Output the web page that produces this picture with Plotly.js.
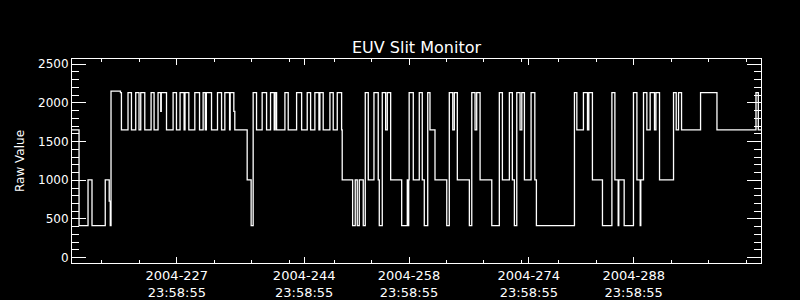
<!DOCTYPE html>
<html>
<head>
<meta charset="utf-8">
<script src="https://cdn.plot.ly/plotly-3.0.1.min.js"></script>
<style>html,body{margin:0;padding:0;background:#000;}#chart{width:800px;height:300px;}</style>
</head>
<body>
<div id="chart"></div>
<script>
// Day of year 2004 (fractional) at which each level starts; last entry closes the series
const days = [
 214.00, 214.94, 216.14, 216.67, 218.44, 218.97, 219.11, 219.21, 220.47, 220.60,
 221.48, 221.94, 222.51, 222.95, 223.18, 223.72, 224.56, 224.96, 225.49, 225.85,
 225.92, 226.62, 227.50, 227.95, 228.43, 228.97, 229.09, 229.60, 230.40, 231.03,
 231.51, 231.80, 231.94, 232.63, 233.43, 233.97, 234.41, 235.04, 235.12, 235.61,
 235.74, 237.39, 237.92, 238.19, 238.64, 239.39, 239.98, 240.51, 241.00, 241.13,
 241.32, 242.43, 242.87, 243.99, 244.66, 245.41, 245.86, 246.43, 246.97, 247.10,
 247.54, 248.44, 248.88, 249.42, 250.00, 250.08, 251.47, 251.82, 252.09, 252.36,
 252.89, 253.16, 253.56, 254.32, 254.89, 255.03, 255.43, 255.88, 256.10, 256.55,
 258.02, 258.77, 258.86, 258.96, 259.02, 259.57, 260.37, 260.77, 261.04, 261.50,
 261.80, 262.47, 264.04, 264.38, 264.84, 265.05, 265.45, 267.06, 267.38, 267.82,
 268.04, 268.49, 270.05, 271.06, 271.47, 272.40, 272.80, 273.07, 273.39, 273.83,
 274.06, 274.41, 275.30, 275.80, 276.01, 281.09, 281.41, 282.29, 282.83, 283.01,
 283.49, 284.83, 286.09, 286.49, 286.93, 287.01, 287.73, 288.97, 289.43, 289.87,
 289.95, 290.31, 290.76, 291.20, 291.78, 291.97, 292.45, 294.32, 294.68, 294.99,
 295.39, 297.93, 300.12, 305.33, 305.64, 306.00
];
// Raw monitor value for each of those segments
const rawValue = [
 1650, 415, 1005, 415, 1005, 730, 415, 2150, 2130, 1650,
 2130, 1650, 2130, 1650, 2130, 1650, 2130, 1650, 2130, 1890,
 2130, 1650, 2130, 1650, 2130, 1650, 2130, 1650, 2130, 1650,
 2130, 1650, 2130, 1650, 2130, 1650, 2130, 1650, 2130, 1890,
 1650, 1005, 415, 2130, 1650, 2130, 1650, 2130, 1650, 2130,
 1650, 2130, 1650, 2130, 1650, 2130, 1650, 2130, 1650, 2130,
 1650, 2130, 1650, 2130, 1650, 1005, 415, 1005, 415, 1005,
 415, 2130, 1005, 2130, 1005, 415, 2130, 1650, 2130, 1005,
 415, 1005, 415, 1005, 2130, 1005, 2130, 1005, 415, 2130,
 1650, 1005, 415, 2130, 1650, 2130, 1005, 415, 2130, 1650,
 2130, 1005, 415, 2130, 1005, 2130, 1005, 415, 2130, 1650,
 2130, 1005, 2130, 1005, 415, 2130, 1650, 2130, 1650, 2130,
 1005, 415, 2130, 1005, 415, 1005, 415, 2130, 1005, 415,
 1005, 2130, 1650, 2130, 1650, 2130, 1005, 2130, 1650, 2130,
 1650, 2130, 1650, 2130, 1650, 1650
];
// Axis ticks
const tickDays = [227.9993, 244.9993, 258.9993, 274.9993, 288.9993];
const tickText = ['2004-227<br>23:58:55', '2004-244<br>23:58:55', '2004-258<br>23:58:55', '2004-274<br>23:58:55', '2004-288<br>23:58:55'];
const minorDays = [218, 223, 233, 238, 243, 249, 254, 264, 269, 274, 279, 284, 294, 299, 304];
const xRange = [214, 306];
const yRange = [-68, 2565];

const FONT = 'DejaVu Sans';
const trace = {
  x: days, y: rawValue, type: 'scatter', mode: 'lines',
  line: {shape: 'hv', color: '#ffffff', width: 1.3},
  hoverinfo: 'skip', showlegend: false
};
const layout = {
  width: 800, height: 300,
  paper_bgcolor: '#000000', plot_bgcolor: '#000000',
  margin: {l: 72, r: 39, t: 59, b: 37, pad: 0},
  font: {family: FONT, color: '#ffffff', size: 12},
  title: {text: 'EUV Slit Monitor', font: {family: FONT, size: 16, color: '#ffffff'},
          x: 0.5, xref: 'paper', xanchor: 'center', y: 0.842, yref: 'container', yanchor: 'middle'},
  xaxis: {
    range: xRange, showgrid: false, zeroline: false,
    showline: true, linecolor: '#ffffff', linewidth: 1, mirror: 'allticks',
    ticks: 'inside', ticklen: 6, tickwidth: 1, tickcolor: '#ffffff',
    tickmode: 'array', tickvals: tickDays, ticktext: tickText,
    tickfont: {family: FONT, size: 13, color: '#ffffff'},
    minor: {tickmode: 'array', tickvals: minorDays, ticks: 'inside', ticklen: 3, tickwidth: 1, tickcolor: '#ffffff', showgrid: false}
  },
  yaxis: {
    range: yRange, showgrid: false, zeroline: false,
    showline: true, linecolor: '#ffffff', linewidth: 1, mirror: 'allticks',
    ticks: 'inside', ticklen: 14, tickwidth: 1, tickcolor: '#ffffff',
    tick0: 0, dtick: 500,
    tickfont: {family: FONT, size: 12, color: '#ffffff'},
    minor: {tick0: 0, dtick: 100, ticks: 'inside', ticklen: 7, tickwidth: 1, tickcolor: '#ffffff', showgrid: false},
    title: {text: 'Raw Value', font: {family: FONT, size: 12, color: '#ffffff'}, standoff: 10}
  }
};
Plotly.newPlot('chart', [trace], layout, {staticPlot: true, displayModeBar: false});
</script>
</body>
</html>
